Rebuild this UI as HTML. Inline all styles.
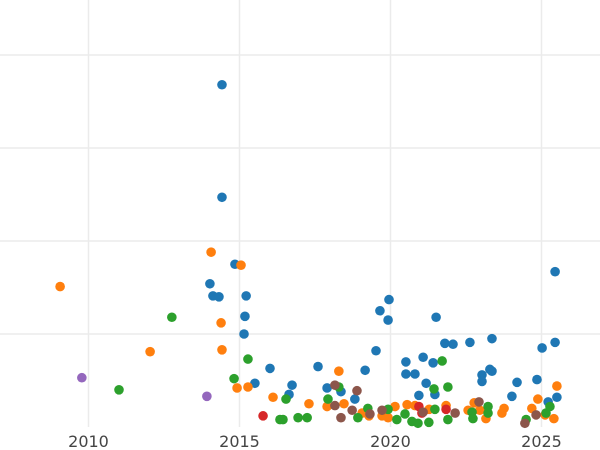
<!DOCTYPE html>
<html><head><meta charset="utf-8"><style>
html,body{margin:0;padding:0;background:#fff;}
svg{display:block;font-family:"DejaVu Sans","Liberation Sans",sans-serif;}
</style></head><body>
<svg id="chart" width="600" height="450" viewBox="0 0 600 450">
<g id="grid"></g>
<g id="pts"></g>
<g id="xt"></g>
</svg>
<script>
const xTicks = [2010, 2015, 2020, 2025];
const yGrid = [10, 20, 30, 40];
const blueX = [2014.42,2014.42,2014.85,2014.02,2014.12,2014.32,2015.22,2015.18,2015.15,2016.01,2015.51,2016.74,2016.64,2017.60,2017.90,2018.36,2018.82,2019.16,2019.52,2019.65,2019.95,2019.92,2020.51,2020.51,2020.81,2021.08,2021.41,2021.18,2020.94,2021.47,2021.51,2021.80,2022.07,2022.63,2023.36,2023.03,2023.03,2023.29,2023.36,2024.02,2024.19,2024.85,2025.02,2025.45,2025.45,2025.51,2025.22];
const blueY = [36.8,24.7,17.5,15.4,14.1,14.0,14.1,11.9,10.0,6.3,4.7,4.5,3.5,6.5,4.2,3.8,3.0,6.1,8.2,12.5,13.7,11.5,7.0,5.7,5.7,7.5,6.9,4.7,3.4,3.5,11.8,9.0,8.9,9.1,9.5,5.6,4.9,6.2,6.0,3.3,4.8,5.1,8.5,9.1,16.7,3.2,2.7];
const orangeX = [2009.06,2014.06,2015.05,2014.39,2012.04,2014.42,2014.92,2015.28,2016.11,2017.30,2017.90,2018.29,2018.46,2019.06,2019.29,2019.72,2019.92,2020.15,2020.55,2020.81,2021.28,2021.84,2022.57,2022.77,2022.96,2023.16,2023.69,2023.76,2024.68,2024.88,2025.12,2025.41,2025.51];
const orangeY = [15.1,18.8,17.4,11.2,8.1,8.3,4.2,4.3,3.2,2.5,2.2,6.0,2.5,1.5,1.2,1.2,1.0,2.2,2.4,2.3,1.9,2.3,1.8,2.6,1.8,0.9,1.5,2.0,2.0,3.0,1.3,0.9,4.4];
const greenX = [2012.76,2011.01,2015.28,2014.82,2016.54,2016.34,2016.44,2016.94,2017.24,2017.93,2018.29,2018.92,2019.25,2019.92,2020.21,2020.48,2020.71,2020.91,2021.27,2021.47,2021.44,2021.71,2021.90,2021.90,2022.70,2022.73,2023.23,2023.23,2024.49,2025.15,2025.28];
const greenY = [11.8,4.0,7.3,5.2,3.0,0.8,0.8,1.0,1.0,3.0,4.3,1.0,2.0,1.9,0.8,1.4,0.6,0.4,0.5,1.9,4.1,7.1,4.3,0.8,1.6,0.9,2.2,1.5,0.8,1.5,2.2];
const redX = [2015.78,2020.94,2021.04,2021.84];
const redY = [1.2,2.2,1.5,1.9];
const purpleX = [2009.78,2013.92];
const purpleY = [5.3,3.3];
const brownX = [2018.16,2018.16,2018.36,2018.73,2018.89,2019.32,2019.72,2021.08,2022.14,2022.93,2024.45,2024.82];
const brownY = [4.5,2.3,1.0,1.8,3.9,1.4,1.8,1.6,1.5,2.7,0.4,1.3];

const NS = "http://www.w3.org/2000/svg";
function sx(yr){ return 88.5 + (yr - 2010) * 30.2; }
function sy(v){ return 427 - v * 9.3; }

const grid = document.getElementById('grid');
for (const t of yGrid) {
  const l = document.createElementNS(NS, 'line');
  
  
  l.setAttribute('x1', 0); l.setAttribute('x2', 600);
  l.setAttribute('y1', sy(t)); l.setAttribute('y2', sy(t));
  l.setAttribute('stroke', '#ebebeb'); l.setAttribute('stroke-width', '1.5');
  grid.appendChild(l);
}
const xt = document.getElementById('xt');
for (const t of xTicks) {
  const l = document.createElementNS(NS, 'line');
  
  
  l.setAttribute('x1', sx(t)); l.setAttribute('x2', sx(t));
  l.setAttribute('y1', 0); l.setAttribute('y2', 427);
  l.setAttribute('stroke', '#ebebeb'); l.setAttribute('stroke-width', '1.5');
  grid.appendChild(l);
  const tx = document.createElementNS(NS, 'text');
  
  
  tx.setAttribute('x', sx(t)); tx.setAttribute('y', 447);
  tx.setAttribute('text-anchor', 'middle');
  tx.setAttribute('font-size', '16'); tx.setAttribute('fill', '#444');
  tx.textContent = t;
  xt.appendChild(tx);
}
const pts = document.getElementById('pts');
const series = [
  [blueX, blueY, '#1f77b4', 'blue'],
  [orangeX, orangeY, '#ff7f0e', 'orange'],
  [greenX, greenY, '#2ca02c', 'green'],
  [redX, redY, '#d62728', 'red'],
  [purpleX, purpleY, '#9467bd', 'purple'],
  [brownX, brownY, '#8c564b', 'brown']
];
for (const [xs, ys, col, nm] of series) {
  for (let i = 0; i < xs.length; i++) {
    const c = document.createElementNS(NS, 'circle');
    
    
    c.setAttribute('cx', sx(xs[i])); c.setAttribute('cy', sy(ys[i]));
    c.setAttribute('r', 4.8); c.setAttribute('fill', col);
    pts.appendChild(c);
  }
}
</script>
</body></html>
